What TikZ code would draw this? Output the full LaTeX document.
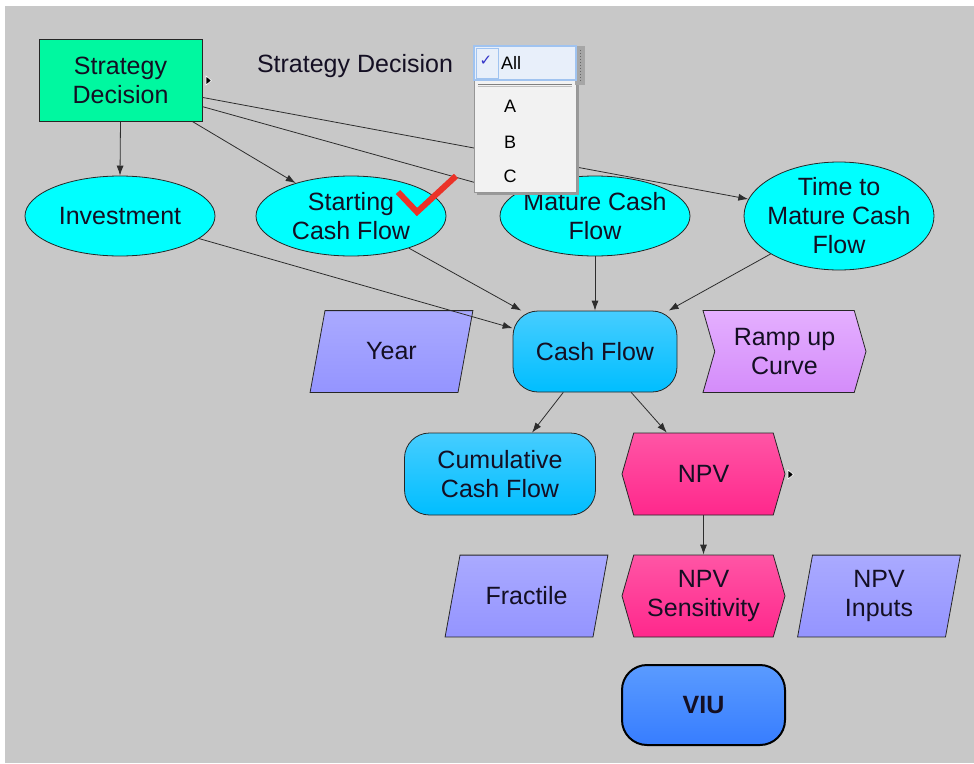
\documentclass[tikz,border=0pt]{standalone}
\usepackage{fontspec}
\setmainfont{Liberation Sans}
\newfontfamily\symfont{DejaVu Sans}
\usetikzlibrary{shapes.geometric,shapes.symbols,arrows.meta}
\definecolor{bg}{RGB}{200,200,200}
\definecolor{sdgreen}{RGB}{0,248,160}
\definecolor{cyanfill}{RGB}{0,255,255}
\definecolor{cftop}{RGB}{70,205,255}
\definecolor{cfbot}{RGB}{0,190,255}
\definecolor{yrtop}{RGB}{170,170,255}
\definecolor{yrbot}{RGB}{148,148,255}
\definecolor{rptop}{RGB}{228,175,255}
\definecolor{rpbot}{RGB}{212,140,250}
\definecolor{nptop}{RGB}{255,85,165}
\definecolor{npbot}{RGB}{255,40,140}
\definecolor{viutop}{RGB}{90,155,255}
\definecolor{viubot}{RGB}{55,125,255}
\definecolor{linecol}{RGB}{45,45,45}
\definecolor{txtcol}{RGB}{20,15,35}
\definecolor{ddborder}{RGB}{150,150,150}
\definecolor{ddfill}{RGB}{242,242,242}
\definecolor{selfill}{RGB}{232,239,250}
\definecolor{selborder}{RGB}{160,195,240}
\definecolor{checkblue}{RGB}{50,50,200}
\definecolor{checkred}{RGB}{235,50,40}
\begin{document}
\begin{tikzpicture}[x=1pt,y=-1pt,
  font=\fontsize{25}{29}\selectfont,
  basenode/.style={draw=black!85, line width=0.8pt, align=center, inner sep=0pt, text=txtcol},
  decbox/.style={basenode, rectangle, fill=sdgreen, minimum width=163, minimum height=82},
  chanceell/.style={basenode, ellipse, fill=cyanfill, minimum width=190, minimum height=80, inner xsep=-10pt, inner ysep=-4pt},
  roundbox/.style={basenode, rectangle, rounded corners=25pt, top color=cftop, bottom color=cfbot, minimum height=81},
  parbox/.style={rectangle, align=center, inner sep=0pt, text=txtcol, fill=bg, minimum width=164, minimum height=83,
    path picture={\shade[top color=yrtop, bottom color=yrbot, draw=black!85, line width=0.8pt]
      ([xshift=0.6pt,yshift=0.6pt]path picture bounding box.south west) --
      ([xshift=15.5pt,yshift=-0.6pt]path picture bounding box.north west) --
      ([xshift=-0.6pt,yshift=-0.6pt]path picture bounding box.north east) --
      ([xshift=-15.5pt,yshift=0.6pt]path picture bounding box.south east) -- cycle;}},
  objbox/.style={basenode, signal, signal to=west and east, signal pointer angle=148, top color=nptop, bottom color=npbot, minimum width=163, minimum height=82},
  rampbox/.style={basenode, signal, signal from=west, signal to=east, signal pointer angle=148, top color=rptop, bottom color=rpbot, minimum width=163, minimum height=82},
  arr/.style={draw=linecol, line width=0.8pt, -{Latex[length=10pt,width=7pt]}},
  ddtext/.style={font=\fontsize{18}{20}\selectfont, text=black, inner sep=0pt},
  tri/.style={fill=black, draw=white, line width=0.6pt}
]
\useasboundingbox (0,0) rectangle (974,763);
\fill[white] (0,0) rectangle (974,763);
\fill[bg] (5,6) rectangle (974,763);

% nodes
\node[decbox] (sd) at (120.5,80) {Strategy\\Decision};
\node[text=txtcol, inner sep=0pt] (sdlabel) at (355,66) {Strategy Decision};

\node[chanceell] (inv) at (120,216) {Investment};
\node[chanceell] (scf) at (351,216) {Starting\\Cash Flow};
\node[chanceell] (mcf) at (595,216) {Mature Cash\\Flow};
\node[chanceell, minimum height=108] (tmcf) at (839,216) {Time to\\Mature Cash\\Flow};

\node[roundbox, minimum width=164] (cf) at (595,351.5) {Cash Flow};
\node[parbox] (yr) at (391.5,351.5) {Year};
\node[rampbox] (ramp) at (784.5,351.5) {Ramp up\\Curve};

\node[roundbox, minimum width=191, minimum height=82] (ccf) at (500,474) {Cumulative\\Cash Flow};
\node[objbox] (npv) at (703.5,474) {NPV};

\node[parbox] (frac) at (526.5,596) {Fractile};
\node[objbox] (npvs) at (703.5,596) {NPV\\Sensitivity};
\node[parbox] (npvi) at (879,596) {NPV\\Inputs};

\node[basenode, rectangle, rounded corners=25pt, line width=2pt, draw=black, top color=viutop, bottom color=viubot, minimum width=163, minimum height=80, font=\fontsize{25}{29}\selectfont\bfseries] (viu) at (703.5,705) {VIU};

% connectors
\draw[arr] (sd.south) -- (inv.north);
\draw[arr] (sd.-30) -- (scf);
\draw[arr] (sd.-18) -- (mcf);
\draw[arr] (sd.-12) -- (tmcf);
\draw[arr] (inv) -- (cf);
\draw[arr] (scf) -- (cf);
\draw[arr] (mcf.south) -- (cf.north);
\draw[arr] (tmcf) -- (cf);
\draw[arr] (cf) -- (ccf);
\draw[arr] (cf) -- (npv);
\draw[arr] (npv.south) -- (npvs.north);

% small menu triangles
\coordinate (t1) at (206,76);
\draw[tri] (t1) -- ++(5.5,4.5) -- ++(-5.5,4.5) -- cycle;
\coordinate (t2) at (788,470);
\draw[tri] (t2) -- ++(5.5,4.5) -- ++(-5.5,4.5) -- cycle;

% red check mark
\draw[checkred, line width=6pt, line join=miter] (398,192) -- (417,212) -- (456,176);

% dropdown
\fill[black!40] (477,83) rectangle (579,195);
\draw[ddborder, fill=ddfill, line width=0.8pt] (474,80) rectangle (576,192);
\draw[black!50, line width=0.8pt] (478,84.5) -- (572,84.5);
\draw[black!25, line width=0.8pt] (478,86.5) -- (572,86.5);
\fill[black!35] (575,46) rectangle (585,85);
\draw[black!60, line width=1pt, dotted] (580,50) -- (580,81);
\draw[selborder, fill=selfill, line width=1.2pt] (474,46) rectangle (576,80);
\draw[selborder, line width=0.8pt] (476,48) rectangle (498,78);
\node[ddtext, text=checkblue, font=\symfont\fontsize{15}{18}\selectfont] (chk) at (486,61) {✓};
\node[ddtext, anchor=west] (ddall) at (501,63) {All};
\node[ddtext] (dda) at (510,106) {A};
\node[ddtext] (ddb) at (510,142) {B};
\node[ddtext] (ddc) at (510,176) {C};
\end{tikzpicture}
\end{document}
